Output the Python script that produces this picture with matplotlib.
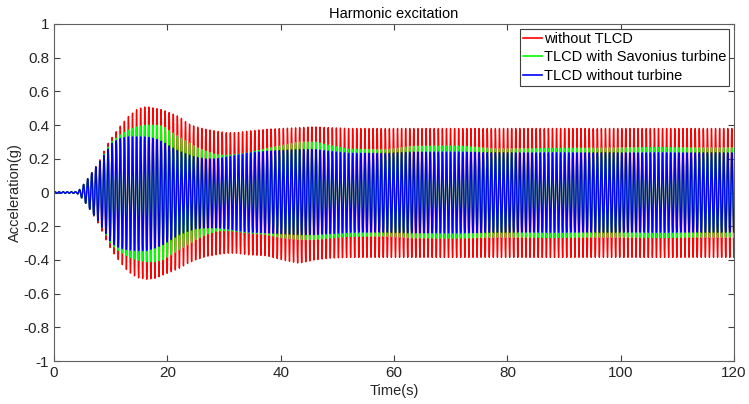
import numpy as np
import matplotlib.pyplot as plt

# envelope knots (s)
t_knots = [0, 4, 4.6, 5.6, 6.4, 7.2, 7.9, 8.6, 9.3, 10.1, 11.6, 13.1, 14.7, 16.3, 17.8, 19.2,
           20.7, 22.1, 23.6, 25.0, 26.8, 28.5, 30.4, 32.2, 34.4, 37.4, 40.3, 43.2, 46, 48.5,
           52, 59, 63, 72, 78, 84, 100, 120]

# upper / lower amplitude (g) of each response
red_up = [.005, .005, .02, .065, .105, .145, .18, .23, .28, .32, .39, .45, .495, .51, .50, .49,
          .47, .45, .41, .39, .375, .365, .355, .355, .365, .375, .38, .385, .39, .385,
          .38, .38, .38, .38, .38, .38, .38, .38]
red_lo = [.005, .005, .02, .065, .105, .15, .19, .24, .29, .34, .41, .47, .505, .515, .51, .49,
          .47, .45, .42, .40, .38, .37, .36, .36, .37, .375, .40, .42, .40, .39,
          .385, .385, .385, .385, .385, .385, .385, .385]
green_up = [.005, .005, .02, .065, .105, .145, .175, .215, .255, .30, .34, .37, .39, .40, .40, .395,
            .36, .33, .30, .27, .245, .225, .22, .225, .235, .26, .28, .30, .30, .28,
            .256, .256, .275, .275, .26, .26, .266, .266]
green_lo = [.005, .005, .02, .065, .105, .145, .175, .215, .26, .31, .35, .38, .40, .41, .41, .40,
            .37, .34, .31, .28, .25, .23, .225, .23, .24, .25, .27, .28, .28, .27,
            .26, .26, .27, .27, .266, .266, .266, .266]
blue_up = [.005, .005, .02, .065, .105, .145, .175, .21, .245, .29, .32, .33, .33, .33, .32, .30,
           .27, .245, .225, .21, .20, .20, .21, .22, .235, .245, .25, .255, .256, .245,
           .233, .233, .24, .24, .236, .236, .236, .236]
blue_lo = [.005, .005, .02, .065, .105, .145, .175, .215, .25, .30, .33, .34, .345, .345, .33, .31,
           .28, .25, .23, .215, .21, .21, .215, .225, .235, .24, .245, .25, .25, .245,
           .236, .236, .24, .24, .236, .236, .236, .236]

f_exc = 1.39  # excitation frequency read from stripe spacing (Hz)

labels = ['without TLCD', 'TLCD with Savonius turbine', 'TLCD without turbine']
colors = ['#ff0000', '#00ff00', '#0000ff']
yticks = [-1, -0.8, -0.6, -0.4, -0.2, 0, 0.2, 0.4, 0.6, 0.8, 1]
xticks = [0, 20, 40, 60, 80, 100, 120]

t = np.linspace(0, 120, 48001)
carrier = np.sin(2 * np.pi * f_exc * t)


def response(up, lo):
    a_up = np.interp(t, t_knots, up)
    a_lo = np.interp(t, t_knots, lo)
    return np.where(carrier > 0, a_up * carrier, a_lo * carrier)


plt.rcParams['font.family'] = ['Liberation Sans', 'DejaVu Sans']
fig = plt.figure(figsize=(7.49, 4.04), dpi=100)
ax = fig.add_axes([0.0721, 0.1064, 0.908, 0.8342])

for up, lo, c, lab in zip([red_up, green_up, blue_up], [red_lo, green_lo, blue_lo], colors, labels):
    ax.plot(t, response(up, lo), color=c, lw=1.0, label=lab)

ax.set_xlim(0, 120)
ax.set_ylim(-1, 1)
ax.set_xticks(xticks)
ax.set_xticklabels([str(v) for v in xticks])
ax.set_yticks(yticks)
ax.set_yticklabels([f'{v:g}' for v in yticks])
ax.tick_params(direction='in', top=True, right=True, length=4, width=0.8,
               colors='#404040', labelsize=11, labelcolor='#262626')
for s in ax.spines.values():
    s.set_color('#606060')
    s.set_linewidth(0.8)

ax.set_xlabel('Time(s)', fontsize=10.5, color='#262626', labelpad=3)
ax.set_ylabel('Acceleration(g)', fontsize=10.5, color='#262626', labelpad=1)
ax.set_title('Harmonic excitation', fontsize=10.5, color='#000000', pad=4)

leg = ax.legend(loc='upper right', fontsize=10.5, handlelength=1.3, handletextpad=0.15,
                borderpad=0.2, labelspacing=0.3, borderaxespad=0.35, fancybox=False,
                framealpha=1)
leg.get_frame().set_edgecolor('#404040')
leg.get_frame().set_linewidth(0.8)
for h in leg.get_lines():
    h.set_linewidth(1.2)

fig.savefig('out.png', dpi=100)
